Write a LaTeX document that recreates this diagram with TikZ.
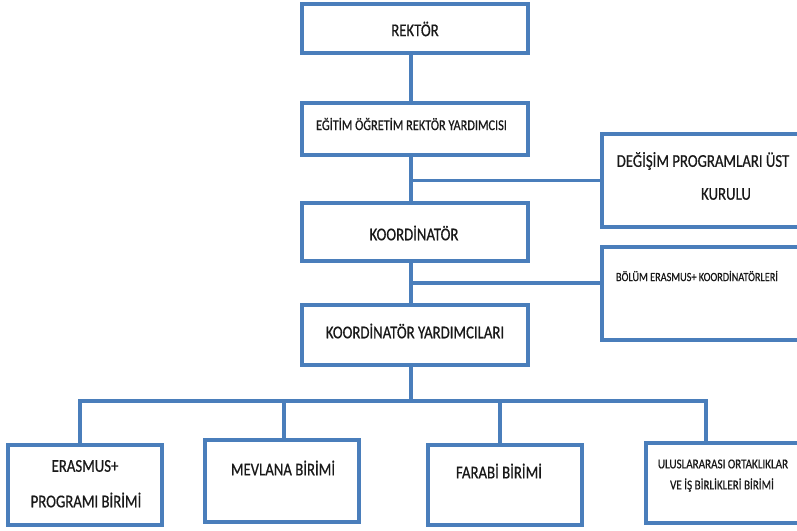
\documentclass[tikz,border=0pt]{standalone}
\usepackage{fontspec}
\setmainfont{Carlito}[FakeStretch=0.82,FakeBold=0.6]
\definecolor{bl}{RGB}{74,126,187}
\definecolor{tx}{RGB}{25,25,25}
\definecolor{sh}{RGB}{200,200,200}
\begin{document}
\begin{tikzpicture}[x=1pt,y=-1pt,
  box/.style={draw=bl,line width=3.4pt,fill=white,rectangle,inner sep=0pt},
  conn/.style={draw=bl,line width=3.4pt},
  shad/.style={draw=sh,line width=3pt},
  lbl/.style={text=tx,inner sep=0pt,anchor=center},
  fA/.style={font=\fontsize{18}{21}\selectfont},
  fB/.style={font=\fontsize{15}{18}\selectfont},
  fC/.style={font=\fontsize{12.5}{15}\selectfont},
  fD/.style={font=\fontsize{13.5}{16}\selectfont}]
\useasboundingbox (0,0) rectangle (797,530);
\fill[white] (0,0) rectangle (797,530);
% boxes
\node[box,minimum width=226pt,minimum height=49pt] (rektor) at (415,28.5) {};
\node[box,minimum width=226pt,minimum height=52pt] (egitim) at (415,129) {};
\node[box,minimum width=226pt,minimum height=58pt] (koord) at (415,232) {};
\node[box,minimum width=226pt,minimum height=60pt] (kyard) at (415,335) {};
\node[box,minimum width=200pt,minimum height=93pt] (degisim) at (702,180.5) {};
\node[box,minimum width=200pt,minimum height=93pt] (bolum) at (702,293.5) {};
\node[box,minimum width=154pt,minimum height=80pt] (erasmus) at (85,485) {};
\node[box,minimum width=154pt,minimum height=82pt] (mevlana) at (282,481) {};
\node[box,minimum width=154pt,minimum height=80pt] (farabi) at (505,485) {};
\node[box,minimum width=156pt,minimum height=80pt] (ulus) at (724,483) {};
% coordinates
\coordinate (t) at (411,0);
\coordinate (b2) at (411,283);
\coordinate (c1) at (80,401);
\coordinate (c2) at (284,401);
\coordinate (c3) at (500,401);
\coordinate (c4) at (706,401);
\coordinate (ct) at (411,401);
% connectors
\draw[conn] (rektor.south -| t) -- (egitim.north -| t);
\draw[conn] (egitim.south -| t) -- (koord.north -| t);
\draw[conn] (t |- degisim.west) -- (degisim.west);
\draw[conn] (koord.south -| t) -- (kyard.north -| t);
\draw[conn] (b2) -- (b2 -| bolum.west);
\draw[conn] (kyard.south -| t) -- (ct);
\draw[conn] (c1 |- erasmus.north) -- (c1) -- (c4) -- (c4 |- ulus.north);
\draw[conn] (c2) -- (c2 |- mevlana.north);
\draw[conn] (c3) -- (c3 |- farabi.north);
% labels
\node[lbl,fA] (trektor) at (415,29) {REKTÖR};
\node[lbl,fB] (tegitim) at (411.5,124) {EĞİTİM ÖĞRETİM REKTÖR YARDIMCISI};
\node[lbl,fA] (tkoord) at (414,233) {KOORDİNATÖR};
\node[lbl,fA] (tkyard) at (415,331) {KOORDİNATÖR YARDIMCILARI};
\node[lbl,fA] (tdeg1) at (703,161) {DEĞİŞİM PROGRAMLARI ÜST};
\node[lbl,fA] (tdeg2) at (726,194) {KURULU};
\node[lbl,fC] (tbolum) at (697,276) {BÖLÜM ERASMUS+ KOORDİNATÖRLERİ};
\node[lbl,fA] (teras1) at (85,466) {ERASMUS+};
\node[lbl,fA] (teras2) at (86,500) {PROGRAMI BİRİMİ};
\node[lbl,fA] (tmev) at (283,468) {MEVLANA BİRİMİ};
\node[lbl,fA] (tfar) at (499,471) {FARABİ BİRİMİ};
\node[lbl,fD] (tul1) at (723,464) {ULUSLARARASI ORTAKLIKLAR};
\node[lbl,fD] (tul2) at (722,485) {VE İŞ BİRLİKLERİ BİRİMİ};
\end{tikzpicture}
\end{document}
